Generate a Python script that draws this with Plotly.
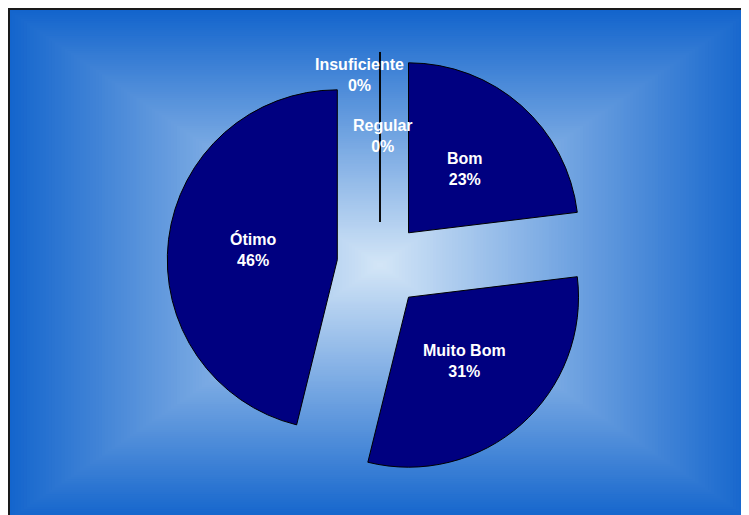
import math
import plotly.graph_objects as go

# ---- data ----
categories = ["Insuficiente", "Regular", "Bom", "Muito Bom", "Ótimo"]
counts = [0, 0, 3, 4, 6]

# ---- styling ----
OFF = 8  # page body margin: figure origin sits 8px into the window
W, H = 749 - OFF, 515 - OFF
FONT = "Liberation Sans, Arial, sans-serif"
SLICE = "#000080"
EDGE_RGB = (18, 100, 204)
CENTER_RGB = (212, 230, 247)

# plot-area frame and pie placement, in window pixels
gx0, gy0, gx1, gy1 = 5, 8, 755, 522          # gradient box
pcx, pcy = (gx0 + gx1) / 2, (gy0 + gy1) / 2  # pie centre = gradient centre
pull = 0.253
radius = 170
FONT_SIZE = 16


def px_x(v):
    return (v - OFF) / W


def px_y(v):
    return 1 - (v - OFF) / H


shapes = []
N = 120
hw, hh = (gx1 - gx0) / 2, (gy1 - gy0) / 2
for k in range(N, 0, -1):
    t = k / N
    c = tuple(round(CENTER_RGB[i] + (EDGE_RGB[i] - CENTER_RGB[i]) * t) for i in range(3))
    shapes.append(dict(
        type="rect", xref="paper", yref="paper", layer="below",
        x0=px_x(pcx - t * hw), x1=px_x(pcx + t * hw),
        y0=px_y(pcy + t * hh), y1=px_y(pcy - t * hh),
        line=dict(width=0), fillcolor="rgb(%d,%d,%d)" % c,
    ))
# dark frame (left/top visible)
shapes.append(dict(
    type="rect", xref="paper", yref="paper", layer="below",
    x0=px_x(9), x1=px_x(gx1), y0=px_y(gy1), y1=px_y(9),
    line=dict(width=2, color="#1a1a1a"), fillcolor="rgba(0,0,0,0)",
))

half = radius * (1 + pull)
dom_x = [px_x(pcx - half), px_x(pcx + half)]
dom_y = [px_y(pcy + half), px_y(pcy - half)]

total = sum(counts)
texts = ["%s<br>%d%%" % (c, round(100 * v / total)) for c, v in zip(categories, counts)]

fig = go.Figure(go.Pie(
    labels=categories,
    values=counts,
    sort=False,
    direction="clockwise",
    rotation=0,
    pull=[pull] * len(counts),
    marker=dict(colors=[SLICE] * len(counts), line=dict(color="black", width=1)),
    textinfo="none",
    domain=dict(x=dom_x, y=dom_y),
    showlegend=False,
    hoverinfo="label+percent",
))

# labels: non-zero slices at half radius along the slice bisector (from exploded apex)
zero_pos = {"Insuficiente": (359, 75), "Regular": (383, 136)}
annotations = []
cum = 0.0
for c, t, v in zip(categories, texts, counts):
    mid = (cum + v / 2) / total * 2 * math.pi
    cum += v
    if v > 0:
        dx, dy = math.sin(mid), -math.cos(mid)
        d = radius * pull + radius * 0.5
        x, y = pcx + d * dx, pcy + d * dy
    else:
        x, y = zero_pos[c]
    annotations.append(dict(
        xref="paper", yref="paper", x=px_x(x), y=px_y(y),
        text=t, showarrow=False, xanchor="center", yanchor="middle",
        font=dict(family=FONT, size=FONT_SIZE, color="white", weight="bold"),
    ))

fig.update_layout(
    width=W, height=H,
    margin=dict(l=0, r=0, t=0, b=0),
    paper_bgcolor="white",
    plot_bgcolor="white",
    shapes=shapes,
    annotations=annotations,
)

fig.write_html("out.html")
